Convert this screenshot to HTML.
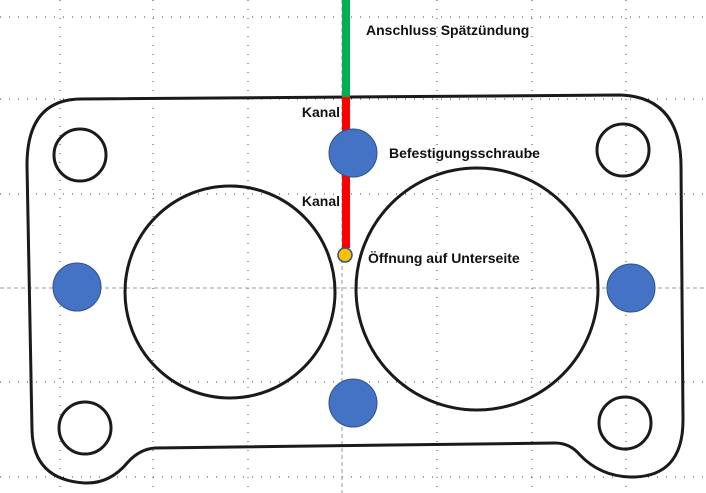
<!DOCTYPE html>
<html><head><meta charset="utf-8"><style>
html,body{margin:0;padding:0;background:#fff;}
svg{display:block;}
text{font-family:"Liberation Sans",sans-serif;font-weight:bold;font-size:14px;fill:#111;}
</style></head><body>
<svg width="706" height="493" viewBox="0 0 706 493">
<g stroke="#444" stroke-width="1" stroke-dasharray="1,8" fill="none">
<line x1="0" y1="17" x2="706" y2="17"/>
<line x1="0" y1="99" x2="706" y2="99"/>
<line x1="0" y1="194" x2="706" y2="194"/>
<line x1="0" y1="382" x2="706" y2="382"/>
<line x1="0" y1="477" x2="706" y2="477"/>
<line x1="60" y1="0" x2="60" y2="493"/>
<line x1="153" y1="0" x2="153" y2="493"/>
<line x1="248" y1="0" x2="248" y2="493"/>
<line x1="437" y1="0" x2="437" y2="493"/>
<line x1="532" y1="0" x2="532" y2="493"/>
<line x1="626" y1="0" x2="626" y2="493"/>
</g>
<g stroke="#999" stroke-width="1" stroke-dasharray="4,3" fill="none">
<line x1="0" y1="288" x2="706" y2="288"/>
<line x1="342" y1="0" x2="342" y2="493"/>
</g>
<path d="M80,99 L620,95 Q680,97 681,165 L683,420 Q683,478 630,477 Q600,476 580,455 Q570,443 555,443 L155,448 Q140,449 128,462 Q110,484 85,483 Q33,480 32,430 L27,165 Q27,100 80,99 Z" fill="none" stroke="#1a1a1a" stroke-width="3"/>
<g fill="none" stroke="#1a1a1a" stroke-width="3">
<circle cx="80" cy="155" r="26"/>
<circle cx="85" cy="428" r="26"/>
<circle cx="623" cy="150" r="26"/>
<circle cx="625" cy="423" r="26"/>
<ellipse cx="230" cy="292" rx="105" ry="106"/>
<ellipse cx="477" cy="289" rx="121" ry="121"/>
</g>
<rect x="342" y="0" width="8" height="97" fill="#00B050"/>
<rect x="342" y="97" width="8" height="151" fill="#FF0000"/>
<g fill="#4472C4" stroke="#2F528F" stroke-width="1">
<circle cx="77" cy="287" r="24"/>
<circle cx="631" cy="288" r="24"/>
<circle cx="353" cy="153" r="24"/>
<circle cx="353" cy="403" r="24"/>
</g>
<circle cx="345" cy="255" r="7" fill="#FFC000" stroke="#2F528F" stroke-width="1.5"/>
<text x="366" y="35">Anschluss Spätzündung</text>
<text x="340" y="117" text-anchor="end">Kanal</text>
<text x="389" y="158">Befestigungsschraube</text>
<text x="340" y="206" text-anchor="end">Kanal</text>
<text x="368" y="263">Öffnung auf Unterseite</text>
</svg>
</body></html>
